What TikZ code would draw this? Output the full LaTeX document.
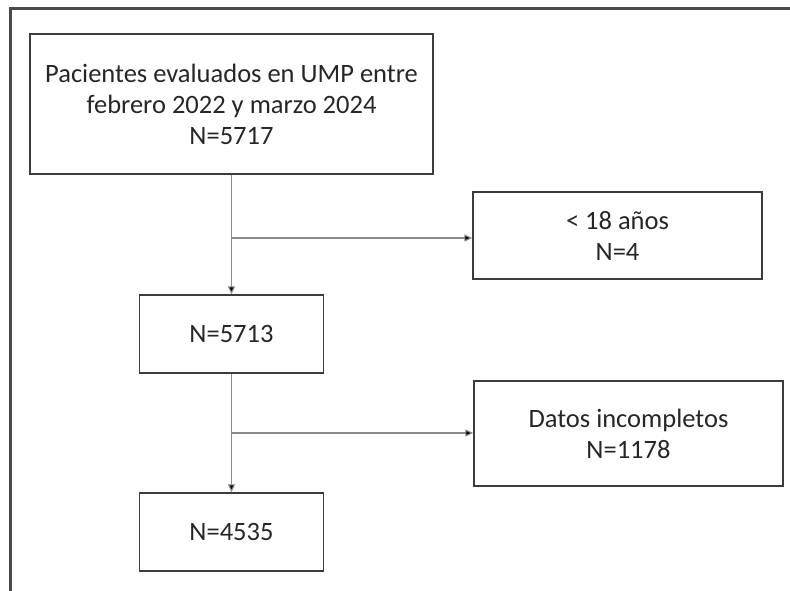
\documentclass[tikz,border=0pt]{standalone}
\usepackage{fontspec}
\setmainfont{Carlito}
\usetikzlibrary{arrows.meta}
\definecolor{txt}{HTML}{262626}
\definecolor{boxc}{HTML}{3C3C3C}
\definecolor{linec}{HTML}{8A8A8A}
\definecolor{framec}{HTML}{4A4A4A}
\tikzset{
  fbox/.style={draw=boxc, line width=1.4pt, text=txt, align=center, inner sep=0pt,
    font=\fontsize{26.5}{31}\selectfont},
  conn/.style={draw=linec, line width=1.1pt, -{Triangle[length=8pt,width=7pt,fill=black]}},
}
\begin{document}
\begin{tikzpicture}[x=1pt,y=-1pt]
\useasboundingbox (0,0) rectangle (790,591);
\draw[framec, line width=3pt] (10,591) -- (10,9) -- (790,9);
\node[fbox, minimum width=403pt, minimum height=140pt] (b1) at (231.5,104)
  {Pacientes evaluados en UMP entre\\febrero 2022 y marzo 2024\\N=5717};
\node[fbox, minimum width=184pt, minimum height=78pt] (b2) at (231.5,334) {N=5713};
\node[fbox, minimum width=184pt, minimum height=78pt] (b3) at (231.5,532) {N=4535};
\node[fbox, minimum width=289pt, minimum height=87pt] (e1) at (617.5,235.5) {< 18 años\\N=4};
\node[fbox, minimum width=309pt, minimum height=105pt] (e2) at (628.5,433.5) {Datos incompletos\\N=1178};
\coordinate (j1) at (231.5,238);
\coordinate (j2) at (231.5,433);
\draw[conn] (b1.south) -- (b2.north);
\draw[conn] (b2.south) -- (b3.north);
\draw[conn] (j1) -- (j1 -| e1.west);
\draw[conn] (j2) -- (j2 -| e2.west);
\end{tikzpicture}
\end{document}
